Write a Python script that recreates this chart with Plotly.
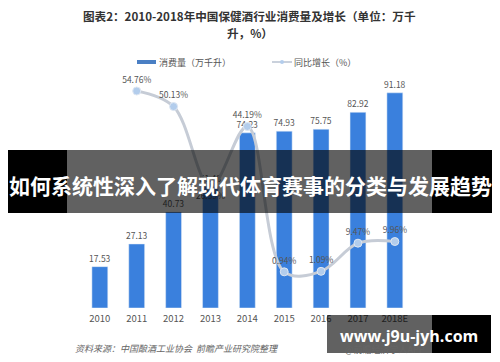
import plotly.graph_objects as go

# browser body has an 8px margin: the figure starts at (8, 8) in the window
OFF = 8
W, H = 500 - OFF, 362 - OFF

years = ["2010", "2011", "2012", "2013", "2014", "2015", "2016", "2017", "2018E"]
consumption = [17.53, 27.13, 40.73, 51.48, 74.23, 74.93, 75.75, 82.92, 91.18]
growth_years = ["2011", "2012", "2013", "2014", "2015", "2016", "2017", "2018E"]
growth = [54.76, 50.13, 26.39, 44.19, 0.94, 1.09, 9.47, 9.96]
growth_label_pos = ["top center", "top center", "bottom center", "top center",
                    "top center", "top center", "top center", "top center"]

def px(x):
    return (x - OFF) / W

def py(y):
    return 1 - (y - OFF) / H

# plot area in window pixels
x_left, x_right = 81.4, 416.6
y_top, y_bot = 80, 308

y1_max = (y_bot - y_top) / 2.36
y2_zero_px = 275
s2 = 3.36
y2_min = -(y_bot - y2_zero_px) / s2
y2_max = (y2_zero_px - y_top) / s2

FONT = "Noto Sans CJK SC"

fig = go.Figure()

fig.add_trace(go.Bar(
    x=years, y=consumption, name="消费量（万千升）",
    marker=dict(color="#3a80dd"), width=0.43,
    text=[f"{v:.2f}" for v in consumption], textposition="outside",
    constraintext="none",
    textfont=dict(size=8.5, color="#555555", family=FONT),
    cliponaxis=False, showlegend=False,
))

fig.add_trace(go.Scatter(
    x=growth_years, y=growth, yaxis="y2", mode="lines+markers+text",
    line=dict(color="#c6ccd6", width=3, shape="spline", smoothing=1.0),
    marker=dict(size=8, color="#b3cdec", line=dict(color="#dfe7f2", width=1)),
    text=[f"{v:.2f}%" for v in growth], textposition=growth_label_pos,
    textfont=dict(size=8.5, color="#555555", family=FONT),
    cliponaxis=False, showlegend=False,
))

shapes = []
annotations = []

def ann(x, y, text, size, color, family=FONT, xanchor="center"):
    annotations.append(dict(x=px(x), y=py(y), xref="paper", yref="paper",
        xanchor=xanchor, yanchor="middle", text=text, showarrow=False,
        font=dict(size=size, color=color, family=family)))

# title
ann(249, 16, "<b>图表2：2010-2018年中国保健酒行业消费量及增长（单位：万千</b>", 11.6, "#333333")
ann(250, 33, "<b>升，%）</b>", 11.6, "#333333")

# legend
shapes.append(dict(type="rect", xref="paper", yref="paper",
    x0=px(137), x1=px(156), y0=py(64), y1=py(60), fillcolor="#4a7fc4", line=dict(width=0)))
ann(157, 62, "消费量（万千升）", 9, "#555555", xanchor="left")
shapes.append(dict(type="line", xref="paper", yref="paper",
    x0=px(272), x1=px(292), y0=py(62), y1=py(62), line=dict(color="#b8c2d0", width=1.5)))
shapes.append(dict(type="circle", xref="paper", yref="paper",
    x0=px(280), x1=px(284), y0=py(64), y1=py(60), fillcolor="#b3cdec", line=dict(width=0)))
ann(292, 62, "同比增长（%）", 9, "#555555", xanchor="left")

# source
ann(73, 348, "<i>资料来源：中国酿酒工业协会  前瞻产业研究院整理</i>", 9, "#666666", xanchor="left")
ann(343, 349, "@前瞻经济学人APP", 9, "#666666", xanchor="left")

# banner
shapes.append(dict(type="rect", xref="paper", yref="paper", layer="above",
    x0=px(8), x1=px(67), y0=py(213), y1=py(150), fillcolor="#000000", line=dict(width=0)))
shapes.append(dict(type="rect", xref="paper", yref="paper", layer="above",
    x0=px(432), x1=px(492), y0=py(213), y1=py(150), fillcolor="#000000", line=dict(width=0)))
shapes.append(dict(type="rect", xref="paper", yref="paper", layer="above",
    x0=px(67), x1=px(432), y0=py(213), y1=py(150), fillcolor="rgba(0,0,0,0.62)", line=dict(width=0)))
ann(250, 185, "<b>如何系统性深入了解现代体育赛事的分类与发展趋势</b>", 21, "#ffffff")

# watermark box
shapes.append(dict(type="rect", xref="paper", yref="paper", layer="above",
    x0=px(327), x1=px(432), y0=py(353), y1=py(315), fillcolor="rgba(0,0,0,0.62)", line=dict(width=0)))
shapes.append(dict(type="rect", xref="paper", yref="paper", layer="above",
    x0=px(432), x1=px(491), y0=py(353), y1=py(315), fillcolor="#000000", line=dict(width=0)))
ann(409, 336, "<b>www.j9u-jyh.com</b>", 16, "#ffffff", family="Open Sans")

fig.update_layout(
    width=W, height=H,
    margin=dict(l=0, r=0, t=0, b=0),
    paper_bgcolor="#ffffff", plot_bgcolor="#ffffff",
    showlegend=False,
    xaxis=dict(domain=[px(x_left), px(x_right)], showgrid=False, zeroline=False,
               showline=False, ticks="",
               tickfont=dict(size=9.5, color="#555555", family=FONT),
               ticklabelstandoff=3),
    yaxis=dict(domain=[py(y_bot), py(y_top)], range=[0, y1_max], visible=False),
    yaxis2=dict(overlaying="y", range=[y2_min, y2_max], visible=False),
    shapes=shapes, annotations=annotations,
)

fig.write_html("out.html")
